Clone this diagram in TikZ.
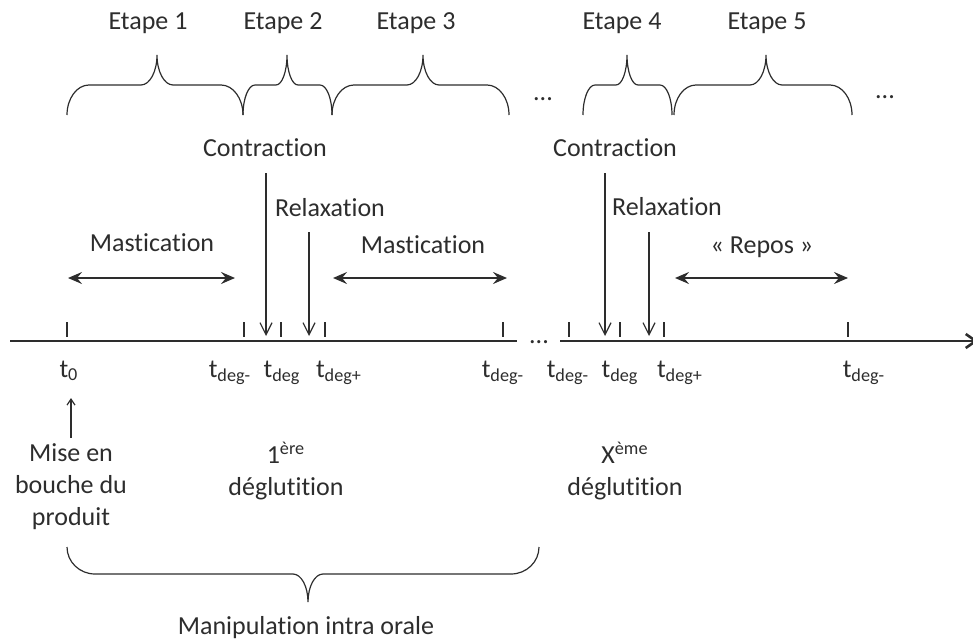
\documentclass[tikz,border=0pt]{standalone}
\usepackage{fontspec}
\setmainfont{Carlito}[Ligatures={NoCommon}]
\usetikzlibrary{arrows.meta}
\definecolor{ink}{RGB}{45,45,45}
\newcommand{\nolig}{\kern0pt }
\newcommand{\wbrace}[8]{% x1 x2 xt yb ym yt r1 r2
  \draw[brc] (#1,#4) .. controls (#1,#5+0.448*#4-0.448*#5) and (#1+0.448*#7,#5) .. (#1+#7,#5)
    -- (#3-#8,#5) .. controls (#3-0.448*#8,#5) and (#3,#6+0.552*#5-0.552*#6) .. (#3,#6)
    .. controls (#3,#6+0.552*#5-0.552*#6) and (#3+0.448*#8,#5) .. (#3+#8,#5)
    -- (#2-#7,#5) .. controls (#2-0.448*#7,#5) and (#2,#5+0.448*#4-0.448*#5) .. (#2,#4);}
\begin{document}
\begin{tikzpicture}[x=0.5pt,y=-0.5pt,
  lbl/.style={inner sep=0pt,text=ink,font=\fontsize{13pt}{16pt}\selectfont},
  ml/.style={lbl,align=center},
  brc/.style={draw=ink,line width=0.6pt},
  tick/.style={draw=ink,line width=0.6pt},
  axis/.style={draw=ink,line width=1.3pt},
  down/.style={draw=ink,line width=0.6pt,-{Straight Barb[length=6pt,width=6pt]}},
  both/.style={draw=ink,line width=1pt,{Stealth[length=7pt,width=6pt,inset=2.5pt]}-{Stealth[length=7pt,width=6pt,inset=2.5pt]}},
  up/.style={draw=ink,line width=0.6pt,-{Straight Barb[length=3pt,width=4pt]}}]
\useasboundingbox (0,0) rectangle (973,642);

% top labels
\node[lbl] (e1) at (148,23) {Etape 1};
\node[lbl] (e2) at (283,23) {Etape 2};
\node[lbl] (e3) at (416,23) {Etape 3};
\node[lbl] (e4) at (622,23) {Etape 4};
\node[lbl] (e5) at (767,23) {Etape 5};
\node[lbl,anchor=base] (d1) at (543,101) {...};
\node[lbl,anchor=base] (d2) at (885,98) {...};

% top braces
\wbrace{67}{243}{157}{115}{85}{55}{22}{16}
\wbrace{243}{332}{287}{115}{85}{55}{12}{11}
\wbrace{332}{509}{423}{115}{85}{55}{22}{16}
\wbrace{583}{672}{627}{115}{85}{55}{12}{11}
\wbrace{674}{852}{766}{115}{85}{55}{22}{16}

% middle labels
\node[lbl] (c1) at (265,148) {Contract\nolig ion};
\node[lbl] (r1) at (330,208) {Relaxat\nolig ion};
\node[lbl] (m1) at (152,243) {Masticat\nolig ion};
\node[lbl] (m2) at (423,245) {Masticat\nolig ion};
\node[lbl] (c2) at (615,148) {Contract\nolig ion};
\node[lbl] (r2) at (667,207) {Relaxat\nolig ion};
\node[lbl] (rp) at (762,247) {«~Repos~»};

% axis
\coordinate (a0) at (10,341);
\coordinate (a1) at (517,341);
\coordinate (a2) at (560,341);
\coordinate (a3) at (978,341);
\draw[axis] (a0) -- (a1);
\draw[axis,-{Straight Barb[length=5pt,width=7pt]}] (a2) -- (a3);
\node[lbl,anchor=base] (d3) at (539,343) {...};

% ticks
\foreach \x in {67,244,281,325,503,569,620,664,848}
  \draw[tick] (\x,322) -- (\x,337);

% down arrows
\coordinate (ca1) at (266,173); \coordinate (cb1) at (266,336);
\coordinate (ra1) at (309,232); \coordinate (rb1) at (309,336);
\coordinate (ca2) at (605,173); \coordinate (cb2) at (605,336);
\coordinate (ra2) at (649,232); \coordinate (rb2) at (649,336);
\draw[down] (ca1) -- (cb1);
\draw[down] (ra1) -- (rb1);
\draw[down] (ca2) -- (cb2);
\draw[down] (ra2) -- (rb2);

% double arrows
\coordinate (ma1) at (68,278); \coordinate (mb1) at (235,278);
\coordinate (ma2) at (333,278); \coordinate (mb2) at (507,278);
\coordinate (pa) at (675,278); \coordinate (pb) at (848,278);
\draw[both] (ma1) -- (mb1);
\draw[both] (ma2) -- (mb2);
\draw[both] (pa) -- (pb);

% t labels
\node[lbl,anchor=base] (t0) at (69,377) {t\textsubscript{0}};
\node[lbl,anchor=base] (t1) at (230,377) {t\textsubscript{deg-}};
\node[lbl,anchor=base] (t2) at (282,377) {t\textsubscript{deg}};
\node[lbl,anchor=base] (t3) at (339,377) {t\textsubscript{deg+}};
\node[lbl,anchor=base] (t4) at (503,377) {t\textsubscript{deg-}};
\node[lbl,anchor=base] (t5) at (568,377) {t\textsubscript{deg-}};
\node[lbl,anchor=base] (t6) at (620,377) {t\textsubscript{deg}};
\node[lbl,anchor=base] (t7) at (680,377) {t\textsubscript{deg+}};
\node[lbl,anchor=base] (t8) at (864,377) {t\textsubscript{deg-}};

% bottom labels
\node[ml] (mb) at (71,487) {Mise en\\bouche du\\produit};
\coordinate (ua) at (71,438); \coordinate (ub) at (71,398);
\draw[up] (ua) -- (ub);
\node[ml] (g1) at (286,471) {1\textsuperscript{ère}\\déglut\nolig it\nolig ion};
\node[ml] (g2) at (625,471) {X\textsuperscript{ème}\\déglut\nolig it\nolig ion};

% bottom brace
\wbrace{67}{539}{308}{547}{574}{602}{28}{15}
\node[lbl] (mio) at (306,628) {Manipulat\nolig ion intra orale};
\end{tikzpicture}
\end{document}
